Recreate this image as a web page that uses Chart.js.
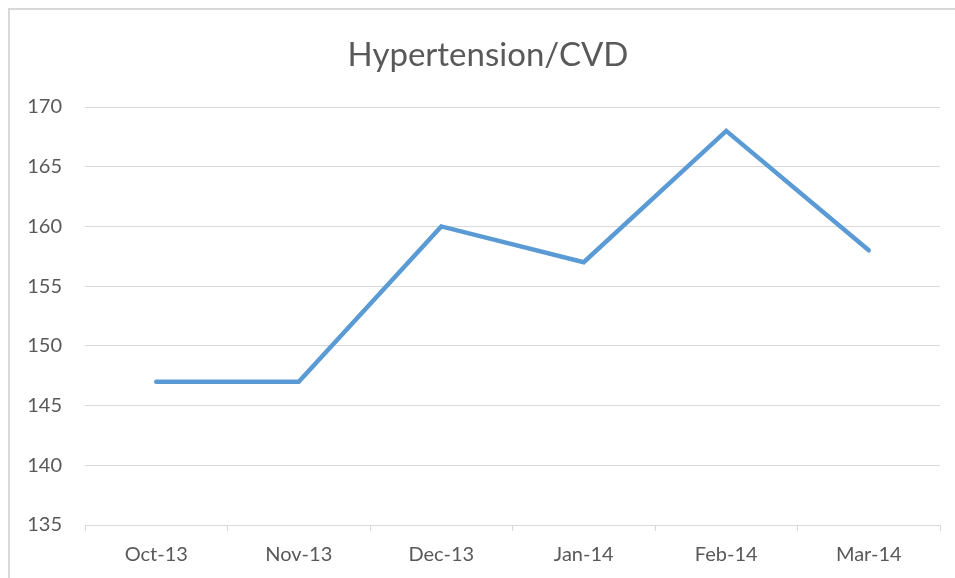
<!DOCTYPE html>
<html>
<head>
<meta charset="utf-8">
<script src="https://cdn.jsdelivr.net/npm/chart.js@4.4.1/dist/chart.umd.min.js"></script>
<style>
  body { margin: 0; background: #fff; }
</style>
</head>
<body>
<canvas id="bpChart" width="955" height="578"></canvas>
<script>
// chart data
var months = ['Oct-13', 'Nov-13', 'Dec-13', 'Jan-14', 'Feb-14', 'Mar-14'];
var cases = [147, 147, 160, 157, 168, 158];
var yMin = 135, yMax = 170, yStep = 5;
var chartTitle = 'Hypertension/CVD';

var textGrey = '#595959';
var lineGrey = '#d9d9d9';

// outer frame (only top and left edges show) plus the title,
// which is centred on the uncropped original so sits a bit right of centre
var framePlugin = {
    id: 'frame',
    beforeDraw: function(chart) {
        var c = chart.ctx;
        c.save();
        c.strokeStyle = lineGrey;
        c.lineWidth = 2;
        c.beginPath();
        c.moveTo(9, 578);
        c.lineTo(9, 9);
        c.lineTo(955, 9);
        c.stroke();

        c.fillStyle = textGrey;
        c.font = 'normal 33px Lato';
        c.textAlign = 'center';
        c.textBaseline = 'middle';
        c.fillText(chartTitle, 488, 55);
        c.restore();
    }
};

var ctx = document.getElementById('bpChart').getContext('2d');
var bpChart = new Chart(ctx, {
    type: 'line',
    data: {
        labels: months,
        datasets: [{
            label: chartTitle,
            data: cases,
            borderColor: '#5B9BD5',
            borderWidth: 4.5,
            borderCapStyle: 'round',
            borderJoinStyle: 'miter',
            pointRadius: 0,
            tension: 0,
            fill: false
        }]
    },
    options: {
        responsive: false,
        animation: false,
        layout: { padding: { left: 8, right: 15, top: 107, bottom: 8 } },
        plugins: {
            legend: { display: false },
            tooltip: { enabled: false },
            title: { display: false }
        },
        scales: {
            x: {
                offset: true,
                grid: {
                    offset: true,
                    drawOnChartArea: false,
                    drawTicks: true,
                    tickLength: 6,
                    color: lineGrey
                },
                border: { display: true, color: lineGrey },
                ticks: {
                    color: textGrey,
                    padding: 12,
                    maxRotation: 0,
                    font: { family: 'Lato', size: 20 }
                },
                afterFit: function(scale) { scale.height = 45; }
            },
            y: {
                min: yMin,
                max: yMax,
                grid: { color: lineGrey, drawTicks: false },
                border: { display: false },
                ticks: {
                    stepSize: yStep,
                    color: textGrey,
                    padding: 23,
                    font: { family: 'Lato', size: 20 }
                },
                afterFit: function(scale) { scale.width = 77; }
            }
        }
    },
    plugins: [framePlugin]
});
</script>
</body>
</html>
